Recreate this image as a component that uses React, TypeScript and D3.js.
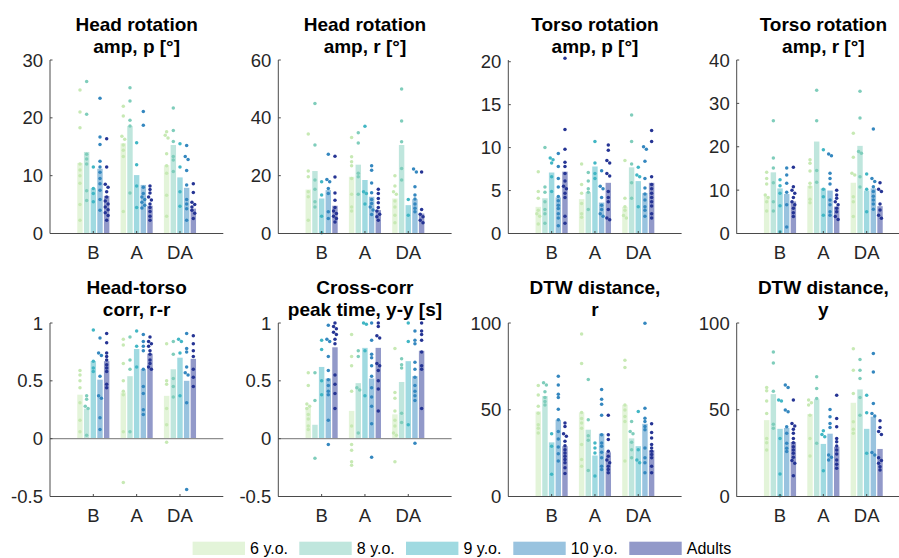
import React from 'react';
import * as d3 from 'd3';

const W = 899;
const H = 558;
const FONT = '"Liberation Sans", Arial, Helvetica, sans-serif';

const CONDITIONS = ['B', 'A', 'DA'];
const AGE_GROUPS = ['6 y.o.', '8 y.o.', '9 y.o.', '10 y.o.', 'Adults'];
const GROUP_COLORS = ['#c7e9b4', '#7fcdbb', '#41b6c4', '#3487bf', '#253494'];

// ---- Panel 1: Head rotation amp, p
const headRotPTitle = ['Head rotation', 'amp, p [°]'];
const headRotPDomain = [0, 30];
const headRotPTicks = [0, 10, 20, 30];
const headRotPBars = [
  [12.2, 14.1, 7.8, 11.2, 6.5],
  [15.6, 18.6, 10.1, 8.4, 4.8],
  [11.8, 15.3, 9.7, 7.9, 4.3],
];
const headRotPDots = [
  [
    [24.8, 21, 18.3, 12, 11, 10, 8.7, 5, 2.3],
    [26.3, 20.6, 13.7, 12.9, 12, 7.4, 5.7],
    [11.5, 7.8, 6.9, 5.5],
    [23.4, 16.7, 15.4, 12.5, 11.5, 10.6, 9.5, 8.6, 7.5, 5.9, 4],
    [16.4, 11.5, 8.5, 8, 7.2, 6.3, 5.6, 5.1, 4.6, 4.1, 3.6, 3.1, 2.3],
  ],
  [
    [22, 20.3, 16.8, 16.3, 15.3, 14.4, 13.3, 3.8],
    [25.2, 22.9, 19.6, 18.6, 7],
    [15.7, 11.9, 8.2, 4.5],
    [21.1, 18.7, 8, 6.9, 6.3, 5.9, 5.4, 4.9, 4.4],
    [8.2, 7.6, 7, 6.3, 5.8, 5.1, 4.5, 3.8, 3, 2.3],
  ],
  [
    [17.6, 17, 16.5, 13.8, 11.7, 10.4, 6.6, 3],
    [21.7, 17.8, 15.9, 13.3, 12.7, 10.7],
    [15.5, 11.5, 7.2, 4.7],
    [15.2, 13.3, 12.8, 10.9, 8.4, 5.9, 5.1, 4.3, 2.3],
    [8.6, 7.1, 5.4, 5, 4.6, 4, 3.5, 2.6],
  ],
];

// ---- Panel 2: Head rotation amp, r
const headRotRTitle = ['Head rotation', 'amp, r [°]'];
const headRotRDomain = [0, 60];
const headRotRTicks = [0, 20, 40, 60];
const headRotRBars = [
  [15.2, 21.6, 12.1, 15, 9.6],
  [19.6, 23.8, 18.5, 12.7, 8.1],
  [12.1, 30.6, 9.8, 11.9, 6.9],
];
const headRotRDots = [
  [
    [34.4, 21.6, 19.6, 14.4, 12.7, 4.6],
    [45, 30.6, 18.5, 15.3, 11, 9.2],
    [17.9, 13.3, 6, 0.3],
    [27.4, 18.7, 17.9, 15.6, 13.8, 7.5, 5.2],
    [26.7, 19.5, 14, 11.5, 9, 7.8, 6.9, 6, 5.2, 4],
  ],
  [
    [33.2, 26.5, 24.8, 23.4, 19, 13.6, 9.2, 7.8],
    [34.8, 31.3, 20.8, 19.6, 13.6],
    [37.1, 14.4, 13.8, 10.2],
    [23.4, 21.9, 17.5, 14.1, 11.8, 10.4, 9.2, 8.1, 6.6],
    [15.3, 13.8, 12.1, 10.6, 9, 7.8, 6.7, 5.8, 4.6],
  ],
  [
    [20, 16.4, 14.4, 13.6, 11.2, 9.2, 6.3, 3.7],
    [50, 38.9, 31.7, 22.5, 18.5],
    [11.8, 6.3],
    [22.3, 21.3, 16.2, 13.3, 11.9, 10.2, 8.7, 7.5],
    [21.3, 8.3, 6.7, 5.8, 4.6, 3.7],
  ],
];

// ---- Panel 3: Torso rotation amp, p
const torsoRotPTitle = ['Torso rotation', 'amp, p [°]'];
const torsoRotPDomain = [0, 20.2];
const torsoRotPTicks = [0, 5, 10, 15, 20];
const torsoRotPBars = [
  [3.1, 4.1, 7.1, 4.2, 7.2],
  [4.0, 4.8, 7.8, 3.6, 5.9],
  [3.1, 7.7, 6.1, 4.7, 5.9],
];
const torsoRotPDots = [
  [
    [7.2, 4.9, 4.1, 2.7, 2.3, 2, 1.1],
    [10, 5.4, 4.8, 3.7, 2.8, 2.3, 1.2],
    [8.8, 8.6, 8.2, 6.6, 4.9],
    [9.3, 7.8, 6.4, 5.4, 4.3, 3.8, 3.3, 2.9, 2.3, 1.8, 0.9],
    [20.4, 12.1, 9.8, 8.3, 7.8, 7, 6.1, 5.5, 5.2, 4.7, 4.2, 2, 1.2],
  ],
  [
    [8.1, 5.7, 4.7, 3.5, 2.3, 1.9],
    [7.1, 6.1, 5.2, 4.8, 2.8],
    [10.7, 8.2, 7, 6.4],
    [7.3, 5.5, 5.2, 4.2, 3.3, 2.8, 2.3, 2],
    [10.3, 9.7, 8.5, 8.2, 7, 6.7, 4.9, 4.2, 3.7, 2.8, 1.8, 1.6],
  ],
  [
    [8.5, 4.1, 3.1, 2.7, 2.1, 1.8],
    [13.8, 10.7, 8.1, 5.9, 4.1],
    [7.7, 6.8, 6.6, 3.1],
    [10.1, 9.8, 8.4, 6.4, 5.3, 4.6, 3.9, 3.1, 2.7, 2],
    [12, 10.7, 6.6, 5.7, 5.2, 4.7, 4.2, 3.7, 3.2, 2.3, 1.8],
  ],
];

// ---- Panel 4: Torso rotation amp, r
const torsoRotRTitle = ['Torso rotation', 'amp, r [°]'];
const torsoRotRDomain = [0, 40];
const torsoRotRTicks = [0, 10, 20, 30, 40];
const torsoRotRBars = [
  [8.6, 14.1, 10.4, 9.1, 7.4],
  [11, 21.2, 10.4, 9.9, 6.2],
  [11.7, 20.2, 9.9, 10.4, 6.3],
];
const torsoRotRDots = [
  [
    [14.1, 12.7, 11.4, 8.9, 8.3, 7.3, 5.2],
    [26, 17.4, 15.1, 11.7, 7.3, 5.2],
    [12.4, 11, 9.3, 6.4, 0.4],
    [15.1, 13.5, 11.6, 9.5, 6.6, 1.5],
    [15.3, 10.8, 10, 9.3, 8.3, 7.3, 6.6, 5.8, 4.8, 3.9],
  ],
  [
    [17, 16.2, 14.4, 11.6, 10.7, 7.9, 7.1],
    [33, 26, 14.5, 11.8],
    [19.3, 10.2, 8.5, 4.2],
    [18.3, 17.9, 13.9, 12.7, 11.4, 7.7, 6.6, 5, 4.2],
    [10, 8.9, 8.1, 7.3, 6.6, 5.8, 5, 3.9, 3.2],
  ],
  [
    [23.1, 17.6, 13.9, 13.5, 8.5, 7.3, 3.9],
    [32.8, 26.6, 18.9, 18.5, 13.1, 10.7],
    [13.7, 10.2, 5],
    [24.1, 12.7, 12, 10.8, 9.7, 8.6, 7.7, 6.8, 5.6],
    [11.7, 10.2, 9.7, 6.8, 5.4, 4.2, 3.5],
  ],
];

// ---- Panel 5: Head-torso corr, r-r
const headTorsoTitle = ['Head-torso', 'corr, r-r'];
const headTorsoDomain = [-0.5, 1];
const headTorsoTicks = [-0.5, 0, 0.5, 1];
const headTorsoBars = [
  [0.38, 0.26, 0.67, 0.51, 0.67],
  [0.40, 0.54, 0.775, 0.60, 0.735],
  [0.37, 0.60, 0.70, 0.50, 0.69],
];
const headTorsoDots = [
  [
    [0.59, 0.55, 0.5, 0.44, 0.31, 0.16, 0.06],
    [0.37, 0.34, 0.28, 0.26, 0.03],
    [0.94, 0.67, 0.61, 0.58],
    [0.87, 0.74, 0.72, 0.54, 0.37, 0.35, 0.18, 0.08],
    [0.91, 0.83, 0.74, 0.71, 0.68, 0.64, 0.61, 0.58, 0.47, 0.44],
  ],
  [
    [0.86, 0.81, 0.65, 0.5, 0.41, 0.38, 0.06, -0.38],
    [0.88, 0.68, 0.6, 0.06],
    [0.93, 0.8, 0.62],
    [0.9, 0.84, 0.8, 0.76, 0.6, 0.45, 0.39, 0.25, 0.21],
    [0.88, 0.84, 0.82, 0.8, 0.76, 0.73, 0.68, 0.65, 0.62, 0.6],
  ],
  [
    [0.82, 0.5, 0.47, 0.26, 0.12, -0.03],
    [0.84, 0.73, 0.52, 0.45, 0.36],
    [0.86, 0.84, 0.74, 0.37],
    [0.91, 0.78, 0.75, 0.62, 0.57, 0.55, 0.31, -0.44],
    [0.89, 0.82, 0.76, 0.71, 0.6, 0.53, 0.45],
  ],
];

// ---- Panel 6: Cross-corr peak time, y-y
const crossCorrTitle = ['Cross-corr', 'peak time, y-y [s]'];
const crossCorrDomain = [-0.5, 1];
const crossCorrTicks = [-0.5, 0, 0.5, 1];
const crossCorrBars = [
  [0.27, 0.12, 0.62, 0.52, 0.79],
  [0.24, 0.48, 0.785, 0.52, 0.785],
  [0.21, 0.49, 0.67, 0.54, 0.76],
];
const crossCorrDots = [
  [
    [0.57, 0.46, 0.3, 0.28, 0.26, 0.21, 0.17, 0.11, 0.08],
    [0.57, 0.33, -0.17],
    [0.85, 0.77, 0.5, 0.38],
    [0.98, 0.86, 0.84, 0.71, 0.59, 0.51, 0.46, 0.41, 0.38, 0.16, -0.05],
    [1, 0.97, 0.95, 0.92, 0.9, 0.86, 0.82, 0.55, 0.47, 0.39, 0.26],
  ],
  [
    [0.9, 0.71, 0.63, 0.41, 0.11, -0.05, -0.1, -0.2, -0.23],
    [0.76, 0.71, 0.44, 0.42, 0.05],
    [1, 0.99, 0.76, 0.37],
    [1, 0.85, 0.73, 0.7, 0.63, 0.54, 0.44, 0.36, 0.28, 0.13, -0.16],
    [1, 0.97, 0.89, 0.87, 0.65, 0.63, 0.59, 0.5, 0.43, 0.24],
  ],
  [
    [0.78, 0.4, 0.35, 0.24, 0.16, 0.11, 0.05, 0.03, -0.2],
    [0.69, 0.64, 0.61, 0.22, 0.14],
    [1, 0.84, 0.12],
    [0.93, 0.85, 0.82, 0.66, 0.6, 0.53, 0.46, 0.41, 0.37, 0.33, -0.04],
    [1, 0.93, 0.9, 0.85, 0.75, 0.63, 0.6, 0.26],
  ],
];

// ---- Panel 7: DTW distance, r
const dtwRTitle = ['DTW distance,', 'r'];
const dtwRDomain = [0, 100];
const dtwRTicks = [0, 50, 100];
const dtwRBars = [
  [49, 57.9, 31.2, 44.2, 29],
  [48.4, 38.5, 23.6, 36.2, 25.5],
  [52.8, 33.5, 29, 41.9, 26.7],
];
const dtwRDots = [
  [
    [64, 58.5, 52, 48, 41.3, 39.4, 36.6],
    [65.5, 64.2, 60.4, 57.1, 54.7, 52.8],
    [36.2, 29, 12.8],
    [69.3, 64.2, 59, 57.1, 50.3, 44.2, 37.5, 33.1, 28.6, 24.6, 20.4],
    [42.3, 40.4, 36.2, 34.7, 31.8, 29.3, 27, 25.1, 23.2, 21.3, 19.4, 16.6, 13.3],
  ],
  [
    [93.7, 76.6, 48.4, 45, 42.3, 39.4, 30, 21.3, 17.5],
    [67.4, 44.2, 35, 32.4, 15],
    [30.9, 28, 25.1, 11.8],
    [61.7, 56, 53.1, 46.9, 35.6, 30.9, 29, 25.5, 22.3, 17.5, 15.6],
    [46.9, 35.6, 32.8, 26.1, 23.2, 21, 19.4, 17.5, 15.6, 13.7],
  ],
  [
    [78.5, 74.3, 52.8, 49.9, 46.1, 43.2, 20.4],
    [43.2, 37.5, 36.2, 31.2, 27, 22.3],
    [49, 27, 21, 19.4],
    [99.8, 50.9, 45.1, 43.2, 40.4, 38.5, 28, 22.3, 19.4, 13.7],
    [41.9, 36.9, 33.7, 30, 28, 26.1, 24.2, 22.3, 17.5, 13.7],
  ],
];

// ---- Panel 8: DTW distance, y
const dtwYTitle = ['DTW distance,', 'y'];
const dtwYDomain = [0, 100];
const dtwYTicks = [0, 50, 100];
const dtwYBars = [
  [44, 59, 39, 39.5, 31.4],
  [47.5, 56.1, 30.3, 36.2, 28.7],
  [54, 61.7, 39, 46, 27.4],
];
const dtwYDots = [
  [
    [62.8, 60.9, 55, 47.9, 33.5, 31, 26.8],
    [83.3, 77, 60.7, 41.6, 39.3],
    [55.6, 55, 33.5, 13, 0.4],
    [64.2, 62.8, 49.8, 48.9, 40.2, 36.4, 30.7, 27.8, 25.9],
    [55.6, 42.1, 40.6, 38.7, 36.4, 33.5, 31, 28.7, 26.8, 24.9, 22.6, 20.7, 19.2, 11.9],
  ],
  [
    [55.6, 54, 52.7, 46.9, 33.5, 23.4],
    [69, 62.3, 56.5, 30.7],
    [37.9, 35.8, 34.5, 14.8],
    [50.2, 46, 42.1, 39.8, 23.9, 22.6, 21.1],
    [58.4, 45, 40.2, 33.5, 31.6, 29.1, 26.8, 24.5, 21.1, 18.6, 16.3],
  ],
  [
    [85.2, 72.8, 59.4, 43.1, 38.7, 36.4],
    [78.9, 72.8, 68, 57.1, 46.9],
    [58.4, 48.3, 24.9],
    [82.4, 71.8, 53.6, 47.9, 46.4, 25.3, 23.9],
    [43.7, 39.8, 37.4, 35.8, 22.4, 20.7, 19.2, 17.2, 15.3],
  ],
];

const PANELS = [
  { title: headRotPTitle, domain: headRotPDomain, ticks: headRotPTicks, bars: headRotPBars, dots: headRotPDots },
  { title: headRotRTitle, domain: headRotRDomain, ticks: headRotRTicks, bars: headRotRBars, dots: headRotRDots },
  { title: torsoRotPTitle, domain: torsoRotPDomain, ticks: torsoRotPTicks, bars: torsoRotPBars, dots: torsoRotPDots },
  { title: torsoRotRTitle, domain: torsoRotRDomain, ticks: torsoRotRTicks, bars: torsoRotRBars, dots: torsoRotRDots },
  { title: headTorsoTitle, domain: headTorsoDomain, ticks: headTorsoTicks, bars: headTorsoBars, dots: headTorsoDots },
  { title: crossCorrTitle, domain: crossCorrDomain, ticks: crossCorrTicks, bars: crossCorrBars, dots: crossCorrDots },
  { title: dtwRTitle, domain: dtwRDomain, ticks: dtwRTicks, bars: dtwRBars, dots: dtwRDots },
  { title: dtwYTitle, domain: dtwYDomain, ticks: dtwYTicks, bars: dtwYBars, dots: dtwYDots },
];

// layout
const COL_LEFT = [50, 278.3, 508.3, 736.7];
const ROW_TOP = [60, 323];
const AX_W = 173.3;
const AX_H = 173.5;
const BAR_STEP = 0.154;
const BAR_W = 0.125;
const LEGEND_X = [192.6, 299.3, 406, 513.3, 629.3];

const fmt = (v: number) => (Math.abs(v) < 1e-9 ? '0' : String(v));

function Panel({ p, idx }: { p: any; idx: number }) {
  const left = COL_LEFT[idx % 4];
  const top = ROW_TOP[Math.floor(idx / 4)];
  const bottom = top + AX_H;
  const x = d3.scaleLinear().domain([0, 4]).range([left, left + AX_W]);
  const y = d3.scaleLinear().domain(p.domain).range([bottom, top]);
  const bw = x(BAR_W) - x(0);
  const cx = left + AX_W / 2;
  const axisColor = '#4a4a4a';
  const hasNeg = p.domain[0] < 0;

  const barEls: any[] = [];
  const dotEls: any[] = [];
  CONDITIONS.forEach((c, ci) => {
    AGE_GROUPS.forEach((g, gi) => {
      const xc = x(ci + 1 + (gi - 2) * BAR_STEP);
      const v = p.bars[ci][gi];
      const y0 = y(Math.max(0, p.domain[0]));
      barEls.push(
        <rect
          key={`b${ci}-${gi}`}
          x={xc - bw / 2}
          y={Math.min(y(v), y0)}
          width={bw}
          height={Math.abs(y0 - y(v))}
          fill={GROUP_COLORS[gi]}
          fillOpacity={0.5}
        />
      );
      const pts = (p.dots[ci][gi] as number[])
        .map((val) => ({ val, py: y(val), dx: 0 }))
        .sort((a, b) => a.py - b.py);
      for (let i = 1; i < pts.length; i++) {
        if (pts[i].py - pts[i - 1].py < 3.2) {
          if (pts[i - 1].dx === 0) pts[i - 1].dx = -1.4;
          pts[i].dx = -pts[i - 1].dx;
        }
      }
      pts.forEach((pt, k) => {
        dotEls.push(
          <circle key={`d${ci}-${gi}-${k}`} cx={xc + pt.dx} cy={pt.py} r={1.75} fill={GROUP_COLORS[gi]} />
        );
      });
    });
  });

  return (
    <g>
      <text x={cx} y={top - 29.3} textAnchor="middle" fontFamily={FONT} fontWeight="bold" fontSize={19} fill="#000">
        {p.title[0]}
      </text>
      <text x={cx} y={top - 6.7} textAnchor="middle" fontFamily={FONT} fontWeight="bold" fontSize={19} fill="#000">
        {p.title[1]}
      </text>
      {barEls}
      {hasNeg && (
        <line x1={left} x2={left + AX_W} y1={y(0)} y2={y(0)} stroke="#8f8f8f" strokeWidth={1.4} />
      )}
      {dotEls}
      <line x1={left} x2={left} y1={top} y2={bottom} stroke={axisColor} strokeWidth={1} />
      <line x1={left} x2={left + AX_W} y1={bottom} y2={bottom} stroke={axisColor} strokeWidth={1} />
      {p.ticks.map((t: number) => (
        <g key={`t${t}`}>
          <line x1={left} x2={left + 2.5} y1={y(t)} y2={y(t)} stroke={axisColor} strokeWidth={1} />
          <text
            x={left - 7}
            y={y(t)}
            dy="0.36em"
            textAnchor="end"
            fontFamily={FONT}
            fontSize={18.5}
            fill="#262626"
          >
            {fmt(t)}
          </text>
        </g>
      ))}
      {CONDITIONS.map((c, ci) => (
        <g key={`x${c}`}>
          <line x1={x(ci + 1)} x2={x(ci + 1)} y1={bottom} y2={bottom - 2.5} stroke={axisColor} strokeWidth={1} />
          <text x={x(ci + 1)} y={bottom + 25} textAnchor="middle" fontFamily={FONT} fontSize={18.5} fill="#262626">
            {c}
          </text>
        </g>
      ))}
    </g>
  );
}

export default function App() {
  return (
    <svg
      width={W}
      height={H}
      viewBox={`0 0 ${W} ${H}`}
      style={{ position: 'fixed', left: 0, top: 0, background: '#fff' }}
    >
      <rect x={0} y={0} width={W} height={H} fill="#fff" />
      {PANELS.map((p, i) => (
        <Panel key={i} p={p} idx={i} />
      ))}
      {AGE_GROUPS.map((g, gi) => (
        <g key={`leg${gi}`}>
          <rect x={LEGEND_X[gi]} y={541.7} width={52.4} height={13.3} fill={GROUP_COLORS[gi]} fillOpacity={0.5} />
          <text x={LEGEND_X[gi] + 57.5} y={554} fontFamily={FONT} fontSize={16} fill="#000">
            {g}
          </text>
        </g>
      ))}
    </svg>
  );
}
